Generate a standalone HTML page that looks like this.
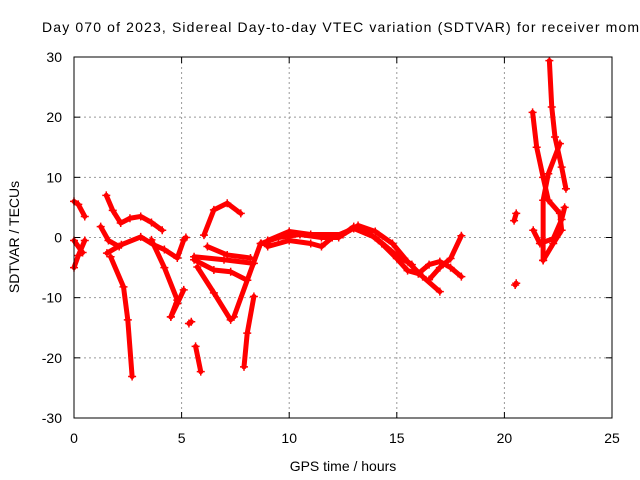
<!DOCTYPE html>
<html><head><meta charset="utf-8"><style>
body{margin:0;background:#fff;}
svg{display:block;font-family:"Liberation Sans",sans-serif;}
</style></head><body>
<svg id="chart" width="640" height="480" viewBox="0 0 640 480">
<rect width="640" height="480" fill="#fff"/>
<text x="42" y="32" font-size="14" textLength="606" lengthAdjust="spacing" fill="#000">Day 070 of 2023, Sidereal Day-to-day VTEC variation (SDTVAR) for receiver momo</text>
<g id="grid"></g>
<g id="axes"></g>
<g id="marks"></g>
<rect x="74" y="57" width="538" height="361" fill="none" stroke="#000" stroke-width="1"/>
<text x="343" y="471" font-size="14" text-anchor="middle">GPS time / hours</text>
<text x="0" y="0" font-size="14" text-anchor="middle" transform="translate(19,237) rotate(-90)">SDTVAR / TECUs</text>
</svg>
<script>
const xTicks=[0,5,10,15,20,25];
const yTicks=[-30,-20,-10,0,10,20,30];
const tracks=[
 [[0,6],[0.2,5.5],[0.5,3.5]],
 [[0,-0.5],[0.4,-2.5]],
 [[0,-5],[0.2,-3],[0.5,-0.5]],
 [[1.5,7],[1.8,4.5],[2.17,2.4],[2.6,3.2],[3.1,3.5],[3.6,2.5],[4.1,1.2]],
 [[1.24,1.8],[1.6,-0.5],[2.1,-1.5]],
 [[1.53,-2.6],[2.2,-1.2],[3.1,0.1],[3.7,-1.2],[4.2,-2],[4.8,-3.4],[5.1,-0.4],[5.2,0]],
 [[1.7,-3.2],[2.3,-8.2],[2.5,-13.7],[2.7,-23.1]],
 [[3.6,-0.4],[4.2,-5],[4.8,-10.4],[4.5,-13.2]],
 [[4.5,-13.2],[4.8,-11],[5.1,-8.7]],
 [[5.34,-14.3],[5.45,-14]],
 [[5.65,-18.1],[5.89,-22.3]],
 [[6.04,0.4],[6.5,4.6],[7.12,5.7],[7.75,4.0]],
 [[5.58,-3.7],[6.5,-5.4],[7.28,-5.7],[8.05,-7.1]],
 [[5.58,-3.2],[6.97,-3.7],[8.36,-4.3]],
 [[6.2,-1.5],[7.12,-2.9],[8.2,-3.4]],
 [[5.73,-4.9],[6.5,-9.2],[7.28,-13.7]],
 [[7.43,-13.2],[8.05,-7.1],[8.67,-1.0],[8.97,-1]],
 [[8.36,-9.8],[8.05,-15.9],[7.9,-21.5]],
 [[8.7,-1],[9.5,0],[10.5,0.5],[11.5,0],[12.3,0],[13,1.8],[13.6,1],[14.3,-1],[15,-3.5],[15.5,-5.5],[16,-6]],
 [[9,-0.5],[10,1],[11,0.5],[12.5,0.5],[13.2,2],[14,1],[14.8,-1],[15.5,-4],[16.2,-6.5],[17,-9]],
 [[9,-1.5],[10,-0.5],[11,-1],[11.5,-1.5],[12,0],[13,1.5],[14,0],[15,-3],[15.7,-4.5]],
 [[16,-6],[16.5,-4.5],[17,-4],[17.5,-5],[18,-6.5]],
 [[16.5,-7],[17,-5],[17.5,-3.5],[18,0.3]],
 [[20.45,2.8],[20.55,4]],
 [[20.5,-7.9],[20.55,-7.6]],
 [[22.09,29.4],[22.2,21.7],[22.35,16.7],[22.66,11.7],[22.86,8.1]],
 [[21.31,20.8],[21.5,15],[21.8,10],[22.04,6.2],[22.58,4],[22.66,1.2],[22.27,-1],[21.8,-3.8]],
 [[21.34,1.2],[21.65,-1],[22.27,-0.2],[22.66,3],[22.8,5]],
 [[21.8,-3.8],[21.8,6.2],[22.04,10.6],[22.58,15.6]]
];
const X=v=>74+v*(538/25), Y=v=>237.5-v*(361/60);
const NS="http://www.w3.org/2000/svg";
const grid=document.getElementById('grid'),axes=document.getElementById('axes'),marks=document.getElementById('marks');
function mk(tag,attrs,parent){const e=document.createElementNS(NS,tag);for(const k in attrs)e.setAttribute(k,attrs[k]);parent.appendChild(e);return e;}
xTicks.forEach(t=>{
 if(t>0&&t<25){const g=mk('line',{x1:X(t),x2:X(t),y1:57,y2:418,stroke:'#999','stroke-dasharray':'2,3'},grid);
 
 }
 const l=mk('text',{x:X(t),y:443,'font-size':14,'text-anchor':'middle'},axes);l.textContent=t;
 
 
 mk('line',{x1:X(t),x2:X(t),y1:418,y2:412,stroke:'#000'},axes);mk('line',{x1:X(t),x2:X(t),y1:57,y2:63,stroke:'#000'},axes);
});
yTicks.forEach(t=>{
 if(t>-30&&t<30){const g=mk('line',{x1:74,x2:612,y1:Y(t),y2:Y(t),stroke:'#999','stroke-dasharray':'2,3'},grid);
 
 }
 const l=mk('text',{x:62,y:Y(t)+5,'font-size':14,'text-anchor':'end'},axes);l.textContent=t;
 
 
 mk('line',{x1:74,x2:80,y1:Y(t),y2:Y(t),stroke:'#000'},axes);mk('line',{x1:612,x2:606,y1:Y(t),y2:Y(t),stroke:'#000'},axes);
});
tracks.forEach(tr=>{
 const p=mk('polyline',{points:tr.map(d=>X(d[0])+','+Y(d[1])).join(' '),fill:'none',stroke:'#f00','stroke-width':5,'stroke-linejoin':'round','stroke-linecap':'round'},marks);
 
 
 tr.forEach(d=>{
  const m=mk('path',{d:`M${X(d[0])-4},${Y(d[1])}h8M${X(d[0])},${Y(d[1])-4}v8`,stroke:'#f00','stroke-width':1.5},marks);
  
  
 });
});
</script>
</body></html>
